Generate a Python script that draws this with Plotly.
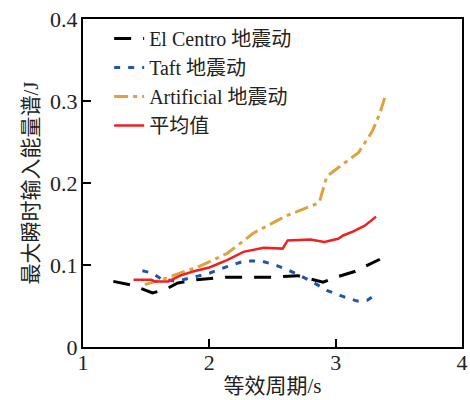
import plotly.graph_objects as go

el_x = [1.24, 1.40, 1.55, 1.65, 1.75, 1.90, 2.10, 2.30, 2.50, 2.70, 2.90, 3.00, 3.15, 3.35]
el_y = [0.080, 0.075, 0.066, 0.070, 0.078, 0.082, 0.085, 0.085, 0.085, 0.087, 0.079, 0.085, 0.092, 0.107]

taft_x = [1.47, 1.55, 1.62, 1.74, 1.87, 2.00, 2.14, 2.28, 2.41, 2.54, 2.68, 2.81, 2.93, 3.05, 3.17, 3.25, 3.33]
taft_y = [0.093, 0.090, 0.083, 0.080, 0.085, 0.090, 0.098, 0.105, 0.105, 0.099, 0.090, 0.080, 0.069, 0.062, 0.056, 0.057, 0.065]

art_x = [1.49, 1.66, 1.93, 2.14, 2.35, 2.61, 2.87, 2.93, 2.98, 3.18, 3.29, 3.35, 3.39]
art_y = [0.076, 0.084, 0.099, 0.114, 0.139, 0.160, 0.176, 0.208, 0.214, 0.237, 0.263, 0.285, 0.305]

avg_x = [1.40, 1.54, 1.57, 1.675, 1.77, 1.87, 2.00, 2.14, 2.27, 2.43, 2.58, 2.62, 2.80, 2.91, 3.02, 3.06, 3.14, 3.23, 3.32]
avg_y = [0.082, 0.082, 0.080, 0.080, 0.087, 0.092, 0.097, 0.106, 0.116, 0.121, 0.120, 0.130, 0.131, 0.128, 0.132, 0.136, 0.141, 0.148, 0.159]

names = ["El Centro 地震动", "Taft 地震动", "Artificial 地震动", "平均值"]
x_ticks = [1, 2, 3, 4]
y_ticks = [0, 0.1, 0.2, 0.3, 0.4]
y_tick_text = ["0", "0.1", "0.2", "0.3", "0.4"]

FONT = "Liberation Serif, Times New Roman, Noto Sans CJK SC, serif"

fig = go.Figure()
fig.add_trace(go.Scatter(x=el_x, y=el_y, mode="lines", name=names[0],
                         line=dict(color="#000000", width=3, dash="17px,12px")))
fig.add_trace(go.Scatter(x=taft_x, y=taft_y, mode="lines", name=names[1],
                         line=dict(color="#2255aa", width=3, dash="6px,8px")))
fig.add_trace(go.Scatter(x=art_x, y=art_y, mode="lines", name=names[2],
                         line=dict(color="#dca340", width=3, dash="14px,5px,4px,5px")))
fig.add_trace(go.Scatter(x=avg_x, y=avg_y, mode="lines", name=names[3],
                         line=dict(color="#f02020", width=2.5)))

axis_common = dict(showline=True, linecolor="black", linewidth=2, mirror=True,
                   ticks="inside", ticklen=8, tickwidth=1.5, tickcolor="black",
                   showgrid=False, zeroline=False, automargin=False,
                   ticklabeloverflow="allow",
                   tickfont=dict(family=FONT, size=22, color="#222"))

fig.update_layout(
    width=470, height=400,
    margin=dict(l=83, r=8, t=19, b=53),
    paper_bgcolor="white", plot_bgcolor="white",
    font=dict(family=FONT, size=21, color="#222"),
    showlegend=True,
    legend=dict(x=0.069, y=1.0, xanchor="left", yanchor="top",
                bgcolor="rgba(0,0,0,0)", font=dict(family=FONT, size=20, color="#222"),
                tracegroupgap=0, itemwidth=30),
    xaxis=dict(range=[1, 4], tickvals=x_ticks, ticklabelstandoff=-5, **axis_common,
               title=dict(text="等效周期/s", font=dict(family=FONT, size=21), standoff=4)),
    yaxis=dict(range=[0, 0.4], tickvals=y_ticks, ticktext=y_tick_text, ticklabelstandoff=-1,
               **axis_common,
               title=dict(text="最大瞬时输入能量谱/J", font=dict(family=FONT, size=21), standoff=6)),
)

fig.write_html("out.html", config={"displayModeBar": False},
               post_script="document.body.style.margin='0px';")
